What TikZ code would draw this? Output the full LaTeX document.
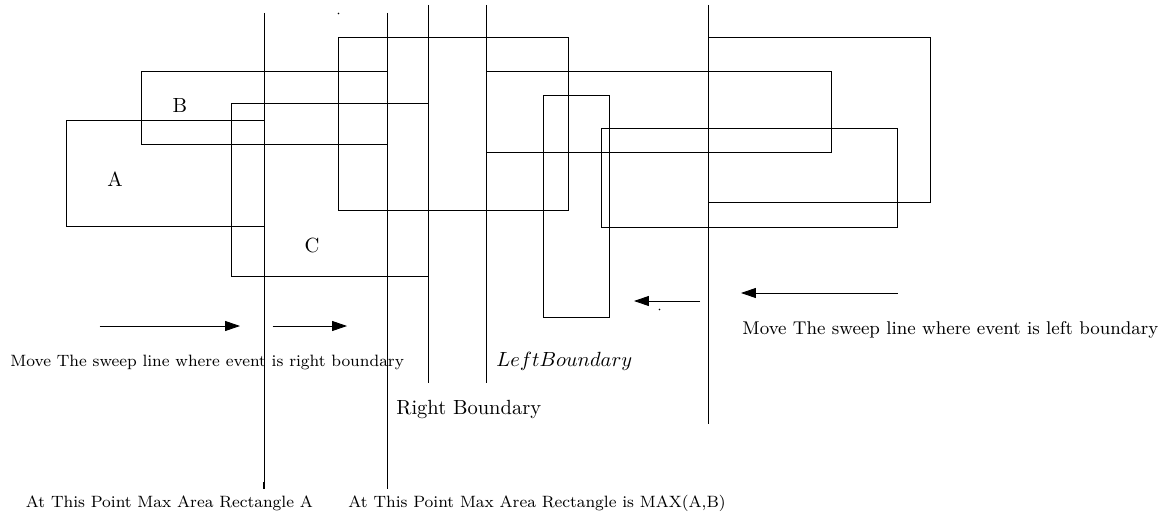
\documentclass[tikz,border=0pt]{standalone}
\usetikzlibrary{arrows.meta}
\tikzset{
  box/.style={draw, line width=0.4pt},
  sweep/.style={draw, line width=0.4pt},
  moveArrow/.style={draw, line width=0.4pt, -{Triangle[length=7.3pt,width=4.9pt]}},
  lbl/.style={inner sep=0pt, font=\normalsize},
  note/.style={inner sep=0pt, anchor=west},
  dot/.style={circle, fill=black, inner sep=0pt, minimum size=0.8pt}
}
\begin{document}
\begin{tikzpicture}[x=0.4878pt, y=-0.4878pt]
\useasboundingbox (0,0) rectangle (1162,516);

% rectangles of the event set
\draw[box] (66,120) rectangle (264,226.5);   % A
\draw[box] (141,71) rectangle (387,144.5);   % B
\draw[box] (231,103.5) rectangle (428,276);  % C
\draw[box] (338.5,37.5) rectangle (568,210.5);
\draw[box] (486,71) rectangle (831.5,152.5);
\draw[box] (543,95.5) rectangle (609,317);
\draw[box] (601,128.5) rectangle (897,227);
\draw[box] (708,37.5) rectangle (930,202);

\node[lbl] (la) at (115,179) {A};
\node[lbl] (lb) at (180,105.5) {B};
\node[lbl] (lc) at (312,245) {C};

% sweep lines
\coordinate (s1t) at (264,13);  \coordinate (s1b) at (264,489);
\coordinate (s2t) at (387,13);  \coordinate (s2b) at (387,489);
\coordinate (s3t) at (428,5);   \coordinate (s3b) at (428,383);
\coordinate (s4t) at (486,5);   \coordinate (s4b) at (486,383);
\coordinate (s5t) at (708,5);   \coordinate (s5b) at (708,424);
\draw[sweep] (s1t) -- (s1b);
\draw[sweep] (s2t) -- (s2b);
\draw[sweep] (s3t) -- (s3b);
\draw[sweep] (s4t) -- (s4b);
\draw[sweep] (s5t) -- (s5b);
\coordinate (s1m) at (264,481.5);
\draw[line width=1pt] (s1m) -- (s1b);

% direction of the sweep
\coordinate (a1s) at (99.5,326);  \coordinate (a1e) at (240,326);
\coordinate (a2s) at (272.5,326); \coordinate (a2e) at (347,326);
\coordinate (a3s) at (700,301);   \coordinate (a3e) at (634,301);
\coordinate (a4s) at (897.5,293); \coordinate (a4e) at (741,293);
\draw[moveArrow] (a1s) -- (a1e);
\draw[moveArrow] (a2s) -- (a2e);
\draw[moveArrow] (a3s) -- (a3e);
\draw[moveArrow] (a4s) -- (a4e);

\node[dot] (d1) at (338.5,13.5) {};
\node[dot] (d2) at (659.5,309.5) {};

% annotations
\node[note, font=\footnotesize] (t1) at (10,362) {Move The sweep line where event is right boundary};
\node[note] (t2) at (496,361) {$LeftBoundary$};
\node[note, font=\small] (t3) at (742,329.5) {Move The sweep line where event is left boundary};
\node[note] (t4) at (396,409) {Right Boundary};
\node[note, font=\footnotesize] (t5) at (25.5,503.5) {At This Point Max Area Rectangle A};
\node[note, font=\footnotesize] (t6) at (348,503.5) {At This Point Max Area Rectangle is MAX(A,B)};
\end{tikzpicture}
\end{document}
